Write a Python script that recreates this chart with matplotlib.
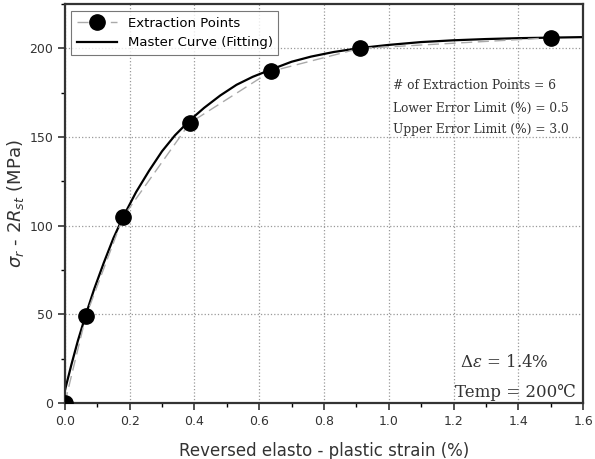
import numpy as np
import matplotlib
matplotlib.use('Agg')
import matplotlib.pyplot as plt
from matplotlib.ticker import MultipleLocator

# extraction points
xp = [0.0, 0.065, 0.18, 0.386, 0.635, 0.91, 1.5]
yp = [0, 49, 105, 158, 187, 200, 206]

# master curve
xc = [0.0, 0.02, 0.04, 0.065, 0.09, 0.12, 0.15, 0.18, 0.22, 0.26, 0.30, 0.34, 0.386,
      0.43, 0.48, 0.53, 0.58, 0.635, 0.70, 0.76, 0.83, 0.91, 1.0, 1.1, 1.2, 1.3, 1.4, 1.5, 1.6]
yc = [7, 21.5, 35, 50, 64, 79, 93, 105, 119, 131, 142, 151, 159.5,
      166.5, 173.5, 179.5, 184, 188, 192.5, 195.4, 198, 200.2, 202, 203.6, 204.6, 205.3, 205.8, 206.1, 206.4]

fig = plt.figure(figsize=(5.95, 4.59), dpi=100)
ax = fig.add_axes([0.109, 0.122, 0.871, 0.869])

ax.grid(True, linestyle=':', color='#999999', linewidth=0.9)
ax.plot(xp, yp, color='#aaaaaa', linestyle=(0, (8, 4)), linewidth=1.0,
        marker='o', markersize=11, markerfacecolor='black', markeredgecolor='black',
        label='Extraction Points', zorder=3)
ax.plot(xc, yc, color='black', linewidth=1.6, label='Master Curve (Fitting)', zorder=2)

ax.set_xlim(0, 1.6)
ax.set_ylim(0, 225)
ax.xaxis.set_major_locator(MultipleLocator(0.2))
ax.xaxis.set_minor_locator(MultipleLocator(0.1))
ax.yaxis.set_major_locator(MultipleLocator(50))
ax.yaxis.set_minor_locator(MultipleLocator(25))
ax.set_xticks(np.arange(0, 1.61, 0.2))
ax.set_xticklabels(['%.1f' % v for v in np.arange(0, 1.61, 0.2)])
ax.tick_params(which='major', direction='out', length=5, width=1.2, labelsize=9, colors='#333333')
ax.tick_params(which='minor', direction='out', length=3, width=1.0)
for s in ax.spines.values():
    s.set_linewidth(1.6)
    s.set_color('#333333')

ax.set_xlabel('Reversed elasto - plastic strain (%)', fontsize=12, color='#333333', labelpad=10)
ax.set_ylabel(r'$\sigma_r$ - 2$R_{st}$ (MPa)', fontsize=13, color='#333333', labelpad=2)

leg = ax.legend(loc='upper left', fontsize=9.5, frameon=True, fancybox=False,
                edgecolor='#555555', borderpad=0.45, handlelength=3,
                bbox_to_anchor=(0.0, 1.0))
leg.get_frame().set_linewidth(0.8)

serif = ['DejaVu Serif']
ax.text(1.013, 179, '# of Extraction Points = 6', fontsize=8.8, family=serif,
        color='#333333', va='center')
ax.text(1.013, 166, 'Lower Error Limit (%) = 0.5', fontsize=8.8, family=serif,
        color='#333333', va='center')
ax.text(1.013, 154, 'Upper Error Limit (%) = 3.0', fontsize=8.8, family=serif,
        color='#333333', va='center')
ax.text(1.22, 23, r'$\mathit{\Delta\epsilon}$ = 1.4%', fontsize=12, family=serif,
        math_fontfamily='dejavuserif', color='#333333', va='center')
ax.text(1.205, 6, 'Temp = 200\u2103', fontsize=12, family=serif, color='#333333', va='center')

fig.savefig('out.png', dpi=100)
